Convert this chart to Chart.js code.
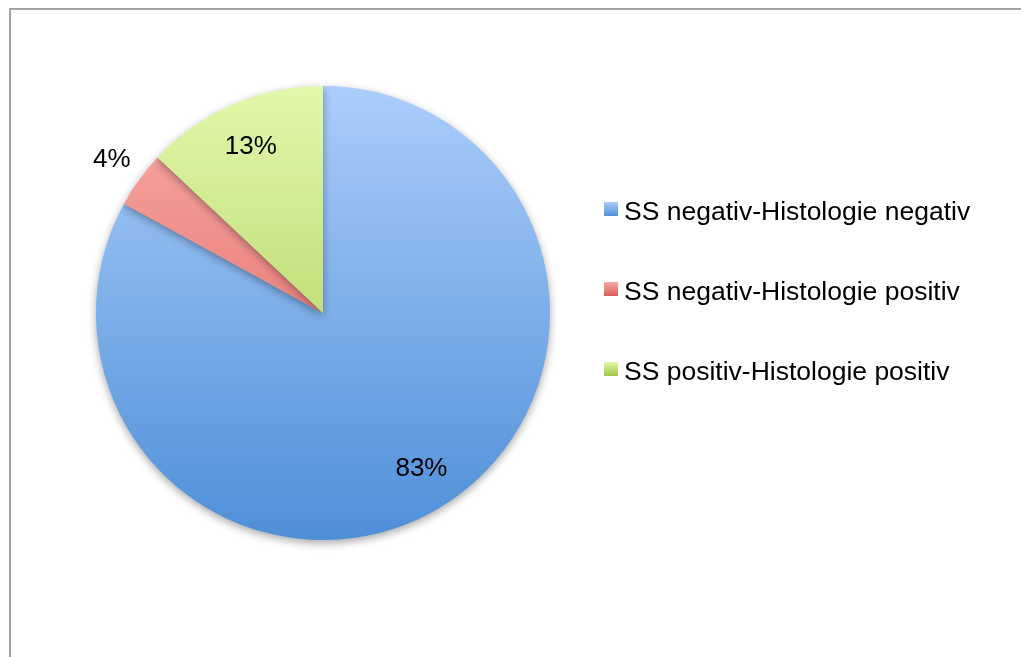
<!DOCTYPE html>
<html>
<head>
<meta charset="utf-8">
<script src="https://cdn.jsdelivr.net/npm/chart.js@4.4.1/dist/chart.umd.min.js"></script>
<style>
  html, body { margin: 0; padding: 0; background: #fff; overflow: hidden; }
  #wrap { position: relative; width: 1021px; height: 657px; }
  #frame { position: absolute; left: 9px; top: 8px; width: 1100px; height: 800px;
           border-left: 2px solid #a3a3a3; border-top: 2px solid #a3a3a3; }
  canvas { position: absolute; left: 0; top: 0; }
</style>
</head>
<body>
<div id="wrap">
  <div id="frame"></div>
  <canvas id="pieChart" width="1021" height="657"></canvas>
</div>
<script>
const labels = ['SS negativ-Histologie negativ', 'SS negativ-Histologie positiv', 'SS positiv-Histologie positiv'];
const values = [83, 4, 13];

// top / bottom colours of each slice's vertical gradient
const gradStops = [
    ['#abcdfb', '#4f8fd8'], //blue
    ['#f8aca8', '#dd5a55'], //red
    ['#e2f8aa', '#a2c64b'], //green
];

function sliceGradient(ctx, i, top, bottom) {
    const g = ctx.createLinearGradient(0, top, 0, bottom);
    g.addColorStop(0, gradStops[i][0]);
    g.addColorStop(1, gradStops[i][1]);
    return g;
}

// soft shadow under the pie
const shadowPlugin = {
    id: 'pieShadow',
    beforeDatasetsDraw(chart) {
        const ctx = chart.ctx;
        ctx.save();
        ctx.shadowColor = 'rgba(0,0,0,0.35)';
        ctx.shadowBlur = 8;
        ctx.shadowOffsetY = 3;
    },
    afterDatasetsDraw(chart) {
        chart.ctx.restore();
    }
};

// percentage labels, small slices go outside
const pctPlugin = {
    id: 'pctLabels',
    afterDatasetsDraw(chart) {
        const ctx = chart.ctx;
        const total = values.reduce((a, b) => a + b, 0);
        ctx.save();
        ctx.font = '26px "Liberation Sans", Arial, sans-serif';
        ctx.fillStyle = '#000';
        ctx.textAlign = 'center';
        ctx.textBaseline = 'middle';
        chart.getDatasetMeta(0).data.forEach((arc, i) => {
            const p = arc.getProps(['x', 'y', 'startAngle', 'endAngle', 'outerRadius'], true);
            const mid = (p.startAngle + p.endAngle) / 2;
            const share = values[i] / total;
            const r = p.outerRadius * (share < 0.05 ? 1.15 : 0.8);
            ctx.fillText(Math.round(share * 100) + '%', p.x + Math.cos(mid) * r + (share > 0.5 ? 6 : 0), p.y + Math.sin(mid) * r);
        });
        ctx.restore();
    }
};

// legend on the right
const legendPlugin = {
    id: 'sideLegend',
    afterDraw(chart) {
        const ctx = chart.ctx;
        ctx.save();
        ctx.font = '26.5px "Liberation Sans", Arial, sans-serif';
        ctx.textBaseline = 'middle';
        labels.forEach((txt, i) => {
            const y = 213 + i * 80;
            ctx.fillStyle = sliceGradient(ctx, i, y - 11, y + 3);
            ctx.fillRect(604, y - 11, 14, 14);
            ctx.fillStyle = '#000';
            ctx.fillText(txt, 624, y);
        });
        ctx.restore();
    }
};

const ctx = document.getElementById('pieChart').getContext('2d');
const pieChart = new Chart(ctx, {
    type: 'pie',
    data: {
        labels: labels,
        datasets: [{
            data: values,
            backgroundColor: (c) => {
                const a = c.chart.chartArea;
                if (!a) return gradStops[c.dataIndex][0];
                return sliceGradient(c.chart.ctx, c.dataIndex, a.top, a.bottom);
            },
            borderWidth: 0
        }]
    },
    options: {
        responsive: false,
        animation: false,
        layout: { padding: { left: 96, right: 471, top: 86, bottom: 117 } },
        plugins: {
            legend: { display: false },
            tooltip: { enabled: false }
        }
    },
    plugins: [shadowPlugin, pctPlugin, legendPlugin]
});
</script>
</body>
</html>
